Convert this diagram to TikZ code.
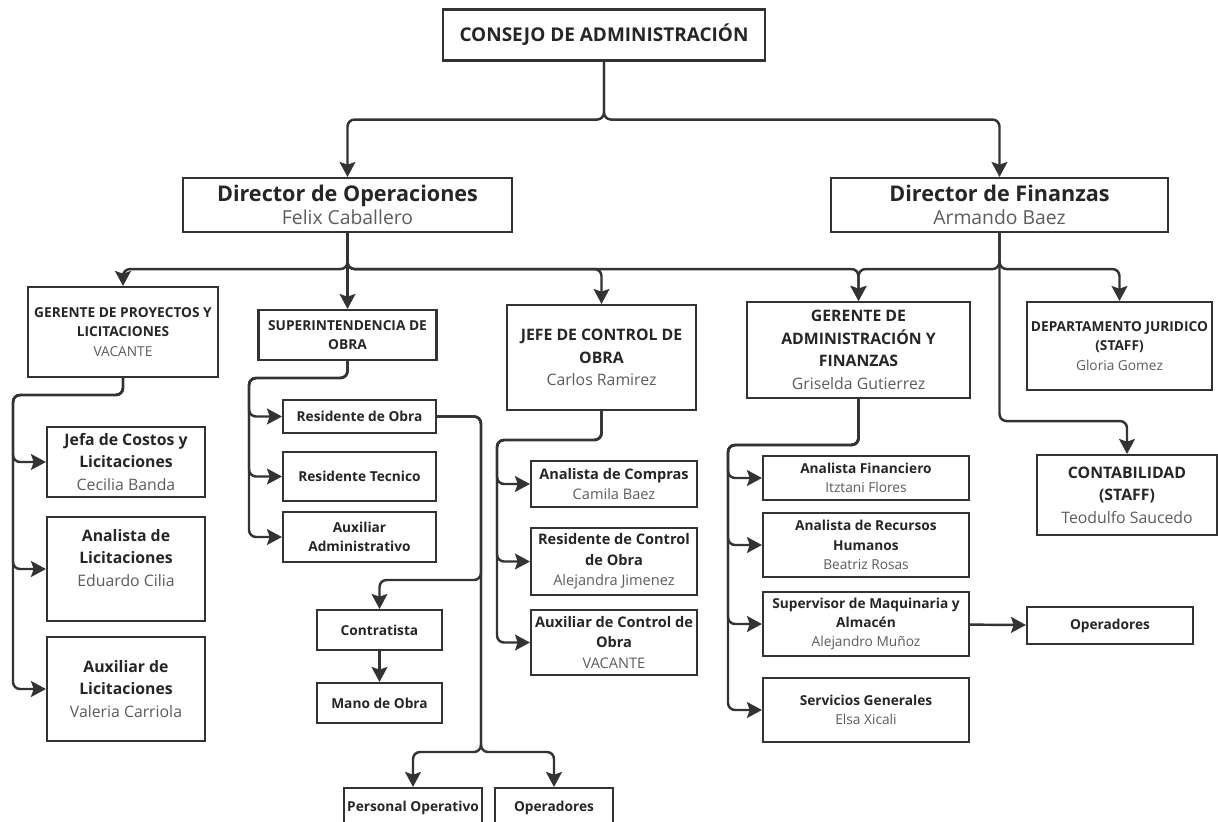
\documentclass[tikz,border=0pt]{standalone}
\usepackage{fontspec}
\setmainfont{Open Sans}
\usepackage{xcolor}
\usepackage{tikz}
\usetikzlibrary{arrows.meta}
\definecolor{ink}{HTML}{262626}
\definecolor{wire}{HTML}{333333}
\definecolor{namegray}{HTML}{5C5C5C}

\begin{document}
\begin{tikzpicture}[x=0.02cm,y=-0.02cm,
  box/.style={draw=wire,line width=1.2pt,fill=white,align=center,inner sep=1pt,text=ink},
  arr/.style={-{Stealth[length=8.5pt,width=9pt,inset=1.5pt]},line width=1.4pt,draw=wire,rounded corners=4pt},
  dirfont/.style={font=\fontsize{11}{13}\selectfont},
  topfont/.style={font=\fontsize{10.8}{12}\selectfont},
  midfont/.style={font=\fontsize{9}{12.8}\selectfont},
  subfont/.style={font=\fontsize{8.3}{11.6}\selectfont},
  smallfont/.style={font=\fontsize{7.8}{11}\selectfont}
]
  \useasboundingbox (0,0) rectangle (1218,822);

  % top levels
  \node[box,topfont,minimum width=6.44cm,minimum height=1.02cm] (cons) at (604,35) {\textbf{CONSEJO DE ADMINISTRACIÓN}};
  \node[box,dirfont,minimum width=6.58cm,minimum height=1.08cm] (ops) at (347.5,205) {\textbf{\fontsize{12.3}{13}\selectfont Director de Operaciones}\\\textcolor{namegray}{Felix Caballero}};
  \node[box,dirfont,minimum width=6.74cm,minimum height=1.08cm] (fin) at (999.5,205) {\textbf{\fontsize{12.3}{13}\selectfont Director de Finanzas}\\\textcolor{namegray}{Armando Baez}};

  % managers
  \node[box,smallfont,minimum width=3.8cm,minimum height=1.8cm] (gpl) at (123,332) {\textbf{GERENTE DE PROYECTOS Y}\\\textbf{LICITACIONES}\\\textcolor{namegray}{VACANTE}};
  \node[box,smallfont,minimum width=3.56cm,minimum height=1.0cm] (sup) at (347.5,335) {\textbf{SUPERINTENDENCIA DE}\\\textbf{OBRA}};
  \node[box,midfont,minimum width=3.78cm,minimum height=2.1cm] (jco) at (601.5,357.5) {\textbf{JEFE DE CONTROL DE}\\\textbf{OBRA}\\\textcolor{namegray}{Carlos Ramirez}};
  \node[box,midfont,minimum width=4.46cm,minimum height=1.92cm] (gaf) at (858.5,350) {\textbf{GERENTE DE}\\\textbf{ADMINISTRACIÓN Y}\\\textbf{FINANZAS}\\\textcolor{namegray}{Griselda Gutierrez}};
  \node[box,smallfont,minimum width=3.7cm,minimum height=1.76cm] (jur) at (1119.5,346) {\textbf{DEPARTAMENTO JURIDICO}\\\textbf{(STAFF)}\\\textcolor{namegray}{Gloria Gomez}};
  \node[box,midfont,minimum width=3.6cm,minimum height=1.6cm] (cont) at (1127,495) {\textbf{CONTABILIDAD}\\\textbf{(STAFF)}\\\textcolor{namegray}{Teodulfo Saucedo}};

  % licitaciones
  \node[box,midfont,minimum width=3.16cm,minimum height=1.4cm] (jcl) at (126,462) {\textbf{Jefa de Costos y}\\\textbf{Licitaciones}\\\textcolor{namegray}{Cecilia Banda}};
  \node[box,midfont,minimum width=3.16cm,minimum height=2.08cm] (alic) at (126,569) {\textbf{Analista de}\\\textbf{Licitaciones}\\\textcolor{namegray}{Eduardo Cilia}\\~};
  \node[box,midfont,minimum width=3.16cm,minimum height=2.08cm] (auxl) at (126,689) {\textbf{Auxiliar de}\\\textbf{Licitaciones}\\\textcolor{namegray}{Valeria Carriola}};

  % obra
  \node[box,smallfont,minimum width=3.06cm,minimum height=0.66cm] (rob) at (359.5,416.5) {\textbf{Residente de Obra}};
  \node[box,smallfont,minimum width=3.06cm,minimum height=0.98cm] (rtec) at (359.5,476.5) {\textbf{Residente Tecnico}};
  \node[box,smallfont,minimum width=3.06cm,minimum height=1.0cm] (aadm) at (359.5,537) {\textbf{Auxiliar}\\\textbf{Administrativo}};
  \node[box,smallfont,minimum width=2.5cm,minimum height=0.8cm] (ctr) at (379.5,630) {\textbf{Contratista}};
  \node[box,smallfont,minimum width=2.5cm,minimum height=0.8cm] (mob) at (379.5,703) {\textbf{Mano de Obra}};
  \node[box,smallfont,minimum width=2.76cm,minimum height=0.8cm] (pop) at (413,808) {\textbf{Personal Operativo}};
  \node[box,smallfont,minimum width=2.36cm,minimum height=0.8cm] (opb) at (554,808) {\textbf{Operadores}};

  % control de obra
  \node[box,subfont,minimum width=3.32cm,minimum height=0.92cm] (acomp) at (614,484) {\textbf{Analista de Compras}\\\textcolor{namegray}{Camila Baez}};
  \node[box,subfont,minimum width=3.32cm,minimum height=1.34cm] (rco) at (614,561.5) {\textbf{Residente de Control}\\\textbf{de Obra}\\\textcolor{namegray}{Alejandra Jimenez}};
  \node[box,subfont,minimum width=3.32cm,minimum height=1.3cm] (acob) at (614,642.5) {\textbf{Auxiliar de Control de}\\\textbf{Obra}\\\textcolor{namegray}{VACANTE}};

  % administracion
  \node[box,smallfont,minimum width=4.12cm,minimum height=0.88cm] (afin) at (866,478) {\textbf{Analista Financiero}\\\textcolor{namegray}{Itztani Flores}};
  \node[box,smallfont,minimum width=4.12cm,minimum height=1.28cm] (arh) at (866,545) {\textbf{Analista de Recursos}\\\textbf{Humanos}\\\textcolor{namegray}{Beatriz Rosas}};
  \node[box,smallfont,minimum width=4.12cm,minimum height=1.28cm] (smaq) at (866,624) {\textbf{Supervisor de Maquinaria y}\\\textbf{Almacén}\\\textcolor{namegray}{Alejandro Muñoz}};
  \node[box,smallfont,minimum width=4.12cm,minimum height=1.28cm] (sgen) at (866,710) {\textbf{Servicios Generales}\\\textcolor{namegray}{Elsa Xicali}};
  \node[box,smallfont,minimum width=3.32cm,minimum height=0.74cm] (opr) at (1110,625.5) {\textbf{Operadores}};

  % bus points
  \coordinate (gplbus) at (13,395);
  \coordinate (supbus) at (249,378);
  \coordinate (jcobus) at (497,440);
  \coordinate (gafbus) at (728,445);
  \coordinate (robbus) at (481,580);
  \coordinate (robdown) at (481,752);

  % connectors
  \draw[arr] (cons.south) -- ++(0,58) -| (ops.north);
  \draw[arr] (cons.south) -- ++(0,58) -| (fin.north);
  \draw[arr] (ops.south) -- ++(0,36) -| (gpl.north);
  \draw[arr] (ops.south) -- (sup.north);
  \draw[arr] (ops.south) -- ++(0,36) -| (jco.north);
  \draw[arr] (ops.south) -- ++(0,36) -| (gaf.north);
  \draw[arr] (fin.south) -- ++(0,36) -| (gaf.north);
  \draw[arr] (fin.south) -- ++(0,36) -| (jur.north);
  \draw[arr] (fin.south) -- ++(0,188) -| (cont.north);
  \foreach \n in {jcl,alic,auxl}
    \draw[arr] (gpl.south) |- (gplbus) |- (\n.west);
  \foreach \n in {rob,rtec,aadm}
    \draw[arr] (sup.south) |- (supbus) |- (\n.west);
  \foreach \n in {acomp,rco,acob}
    \draw[arr] (jco.south) |- (jcobus) |- (\n.west);
  \foreach \n in {afin,arh,smaq,sgen}
    \draw[arr] (gaf.south) |- (gafbus) |- (\n.west);
  \draw[arr] (rob.east) -| (robbus) -| (ctr.north);
  \draw[arr] (ctr) -- (mob);
  \draw[arr] (rob.east) -| (robdown) -| (pop.north);
  \draw[arr] (rob.east) -| (robdown) -| (opb.north);
  \draw[arr] (smaq) -- (opr);
\end{tikzpicture}
\end{document}
